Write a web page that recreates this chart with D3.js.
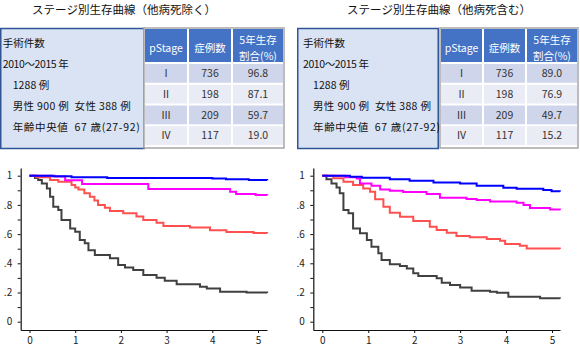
<!DOCTYPE html>
<html><head><meta charset="utf-8">
<script src="https://cdn.jsdelivr.net/npm/d3@7"></script>
<style>
html,body{margin:0;padding:0;background:#fff;}
svg{display:block;}
text{font-family:"Noto Sans CJK JP","Noto Sans",sans-serif;}
</style></head>
<body>
<svg id="c" width="580" height="347"></svg>
<script>
// ---------- data ----------
const titles = ["ステージ別生存曲線（他病死除く）", "ステージ別生存曲線（他病死含む）"];
const infoLines = ["手術件数", "2010～2015 年", "1288 例", "男性 900 例  女性 388 例", "年齢中央値  67 歳(27-92)"];
const headers = ["pStage", "症例数", "5年生存|割合(%)"];
const stages = ["I", "II", "III", "IV"];
const cases = [736, 198, 209, 117];
const rateExcl = ["96.8", "87.1", "59.7", "19.0"];
const rateIncl = ["89.0", "76.9", "49.7", "15.2"];
const xTicks = [0, 1, 2, 3, 4, 5];
const yTicks = [0, 0.1, 0.2, 0.3, 0.4, 0.5, 0.6, 0.7, 0.8, 0.9, 1.0];
const yLabels = {"0": "0", "0.2": ".2", "0.4": ".4", "0.6": ".6", "0.8": ".8", "1": "1"};
const colors = ["#0000ff", "#ff00ff", "#ff5050", "#404040"];

// survival curves (years, survival) – step after
const exclI = [[0,1],[0.5,0.997],[0.92,0.99],[1.7,0.985],[4.0,0.98],[4.3,0.975],[4.8,0.97],[5.2,0.968]];
const exclII = [[0,1],[0.55,0.995],[0.78,0.968],[1.15,0.943],[2.6,0.909],[4.39,0.89],[4.52,0.875],[4.95,0.868],[5.2,0.866]];
const exclIII = [[0,1],[0.15,0.99],[0.45,0.97],[0.63,0.959],[0.92,0.936],[1.0,0.92],[1.07,0.906],[1.2,0.88],[1.32,0.856],[1.42,0.83],[1.5,0.8],[1.65,0.78],[1.76,0.758],[2.05,0.742],[2.34,0.72],[2.49,0.696],[2.78,0.678],[2.93,0.655],[3.51,0.646],[3.95,0.627],[4.31,0.614],[4.9,0.607],[5.2,0.605]];
const exclIV = [[0,1],[0.12,0.985],[0.19,0.97],[0.27,0.947],[0.38,0.913],[0.45,0.856],[0.52,0.788],[0.63,0.765],[0.70,0.696],[0.89,0.639],[1.0,0.616],[1.1,0.559],[1.21,0.537],[1.29,0.49],[1.43,0.457],[1.76,0.434],[1.94,0.388],[2.09,0.372],[2.27,0.354],[2.49,0.32],[2.78,0.301],[2.96,0.281],[3.22,0.256],[3.73,0.24],[3.88,0.228],[4.17,0.205],[4.75,0.2],[5.2,0.197]];

const inclI = [[0,1],[0.6,0.993],[0.86,0.986],[1.47,0.975],[1.9,0.966],[2.42,0.954],[3.0,0.947],[3.36,0.932],[3.94,0.918],[4.23,0.911],[4.81,0.902],[4.99,0.893],[5.17,0.89]];
const inclII = [[0,1],[0.5,0.99],[0.75,0.98],[0.82,0.947],[1.07,0.932],[1.26,0.906],[1.47,0.897],[1.76,0.888],[2.27,0.874],[2.56,0.849],[3.14,0.84],[3.36,0.833],[3.65,0.824],[4.23,0.815],[4.38,0.799],[4.52,0.779],[4.96,0.769],[5.17,0.763]];
const inclIII = [[0,1],[0.24,0.982],[0.46,0.959],[0.67,0.936],[0.89,0.913],[1.04,0.89],[1.15,0.838],[1.33,0.788],[1.47,0.747],[1.69,0.719],[1.98,0.689],[2.34,0.651],[2.49,0.628],[2.71,0.61],[2.92,0.587],[3.21,0.578],[3.58,0.566],[3.87,0.555],[3.98,0.532],[4.3,0.521],[4.45,0.502],[5.17,0.498]];
const inclIV = [[0,1],[0.09,0.975],[0.2,0.947],[0.31,0.92],[0.38,0.879],[0.46,0.765],[0.57,0.742],[0.67,0.639],[0.82,0.605],[0.97,0.559],[1.07,0.514],[1.22,0.468],[1.29,0.422],[1.47,0.393],[1.69,0.381],[1.84,0.365],[1.98,0.331],[2.09,0.313],[2.49,0.297],[2.6,0.267],[2.78,0.251],[3.0,0.235],[3.25,0.212],[3.65,0.205],[3.8,0.199],[4.05,0.171],[4.74,0.16],[5.17,0.158]];

// layout of info lines: indent and rendered width (px)
const infoIndent = [0, 0, 10, 10, 10];
const infoWidth = [42, 66, 36.5, 118, 127];

const panels = [
  {title: titles[0], rates: rateExcl, curves: [exclI, exclII, exclIII, exclIV],
   titleX: 124, box: [0, 145], textX: 2.7, table: [144, 188, 232, 284],
   axisX: 20.7, xEnd: 267, zeroX: 29.5, fiveX: 258},
  {title: titles[1], rates: rateIncl, curves: [inclI, inclII, inclIII, inclIV],
   titleX: 439, box: [297, 439], textX: 303, table: [440, 483, 526, 578],
   axisX: 313.3, xEnd: 560, zeroX: 322.3, fiveX: 552}
];

const svg = d3.select("#c");

panels.forEach(p => {
  const g = svg.append("g");
  // title
  g.append("text").attr("x", p.titleX).attr("y", 13.5).attr("text-anchor", "middle")
    .attr("font-size", 11.5).attr("fill", "#111").text(p.title);

  // info box
  g.append("rect").attr("x", p.box[0] + 0.75).attr("y", 28.5).attr("width", p.box[1] - p.box[0] - 1.5).attr("height", 120)
    .attr("fill", "#dae3f3").attr("stroke", "#2f5597").attr("stroke-width", 1.5);
  const clipId = "clip" + p.box[0];
  g.append("clipPath").attr("id", clipId).append("rect")
    .attr("x", p.box[0]).attr("y", 28).attr("width", p.box[1] - p.box[0] + 1).attr("height", 121);
  infoLines.forEach((s, i) => {
    g.append("text").attr("x", p.textX + infoIndent[i]).attr("y", 47 + i * 21).attr("font-size", 10.5)
      .attr("textLength", infoWidth[i]).attr("lengthAdjust", "spacing")
      .attr("clip-path", `url(#${clipId})`)
      .attr("fill", "#111").text(s.replace(/ /g, "\u00a0"));
  });

  // table
  const [c0, c1, c2, c3] = p.table;
  const cols = [c0, c1, c2, c3];
  const top = 28, headB = 63, rowH = 20.75;
  g.append("rect").attr("x", c0).attr("y", top).attr("width", c3 - c0).attr("height", 148 - top)
    .attr("fill", "#fff").attr("stroke", "#a6a6a6").attr("stroke-width", 1.5);
  for (let ci = 0; ci < 3; ci++) {
    g.append("rect").attr("x", cols[ci] + 1).attr("y", top + 1).attr("width", cols[ci + 1] - cols[ci] - 2)
      .attr("height", headB - top - 2).attr("fill", "#4472c4");
    const cx = (cols[ci] + cols[ci + 1]) / 2;
    const parts = headers[ci].split("|");
    parts.forEach((t, k) => {
      const yy = parts.length === 1 ? 48.5 : (k === 0 ? 40 : 56);
      g.append("text").attr("x", cx).attr("y", yy).attr("dy", "0.35em").attr("text-anchor", "middle")
        .attr("font-size", 10.5).attr("fill", "#fff").text(t);
    });
    stages.forEach((st, ri) => {
      const y0 = headB + ri * rowH;
      g.append("rect").attr("x", cols[ci] + 1).attr("y", y0 + 1).attr("width", cols[ci + 1] - cols[ci] - 2)
        .attr("height", rowH - 2).attr("fill", ri % 2 === 0 ? "#cfd5ea" : "#e9ebf5");
      const val = ci === 0 ? st : (ci === 1 ? cases[ri] : p.rates[ri]);
      g.append("text").attr("x", cx).attr("y", y0 + rowH / 2).attr("dy", "0.35em").attr("text-anchor", "middle")
        .attr("font-size", 10.5).attr("fill", "#333").text(val);
    });
  }

  // chart scales
  const pxPerYear = (p.fiveX - p.zeroX) / 5;
  const x = d3.scaleLinear()
    .domain([(p.axisX - p.zeroX) / pxPerYear, (p.xEnd - p.zeroX) / pxPerYear])
    .range([p.axisX, p.xEnd]);
  const y = d3.scaleLinear().domain([(321.7 - 330) / 146, (321.7 - 168) / 146]).range([330, 168]);

  const xAxis = d3.axisBottom(x).tickValues(xTicks).tickSize(3).tickSizeOuter(0).tickPadding(3.5).tickFormat(d3.format("d"));
  const gx = g.append("g").attr("transform", "translate(0,330)").call(xAxis);
  const yAxis = d3.axisLeft(y).tickValues(yTicks).tickSize(3).tickSizeOuter(0).tickPadding(5.5)
    .tickFormat(d => yLabels[String(+d.toFixed(1))] || "");
  const gy = g.append("g").attr("transform", `translate(${p.axisX},0)`).call(yAxis);
  [gx, gy].forEach(a => {
    a.select(".domain").attr("stroke", "#111").attr("stroke-width", 1.2);
    a.selectAll(".tick line").attr("stroke", "#111");
    a.selectAll(".tick text").attr("fill", "#222").attr("font-size", 10)
      .attr("font-family", "'DejaVu Sans Mono','Liberation Mono',monospace");
  });

  const line = d3.line().x(d => x(d[0])).y(d => y(d[1])).curve(d3.curveStepAfter);
  // draw from worst to best so blue is on top
  [3, 2, 1, 0].forEach(i => {
    g.append("path").datum(p.curves[i]).attr("d", line).attr("fill", "none")
      .attr("stroke", colors[i]).attr("stroke-width", 2);
  });
});
</script>
</body></html>
